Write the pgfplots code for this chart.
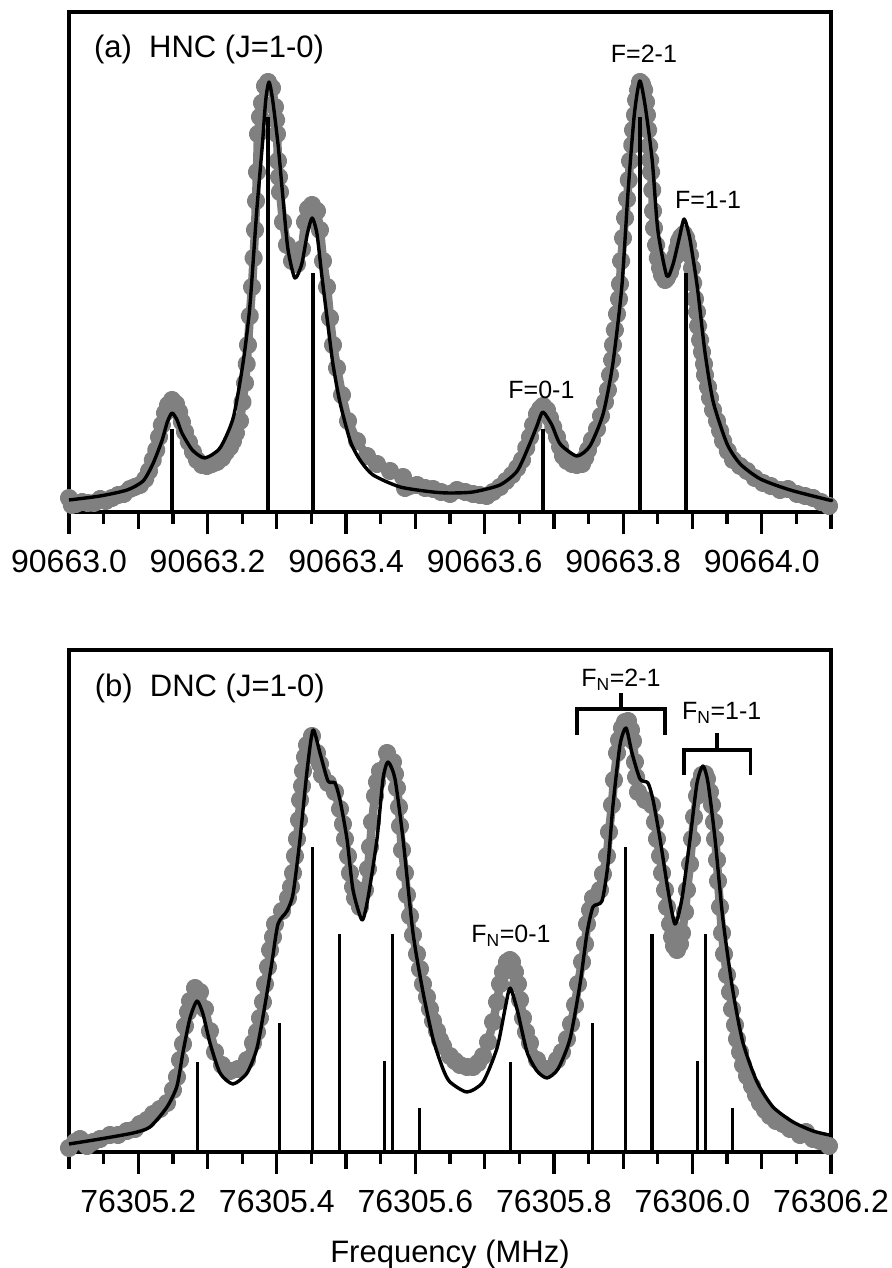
\documentclass[border=0pt]{standalone}
\usepackage{fontspec}
\setmainfont{Liberation Sans}
\usepackage{pgfplots}
\pgfplotsset{compat=1.18}
\definecolor{dotgray}{gray}{0.5}
\pgfplotsset{
  spec/.style={
    scale only axis, width=762pt, xmin=0, xmax=1.1, ymin=0,
    axis line style={line width=3.3pt},
    tick align=outside, xtick pos=left, ytick=\empty,
    major tick length=22pt, minor tick length=12pt,
    major tick style={line width=3.3pt, black},
    minor tick style={line width=3.3pt, black},
    minor xtick={0.05,0.15,0.25,0.35,0.45,0.55,0.65,0.75,0.85,0.95,1.05},
    extra tick style={major tick length=17pt},
    extra x tick labels={},
    xticklabel style={font=\fontsize{32}{32}\selectfont, inner sep=0pt, anchor=north},
    xticklabel shift=16pt,
    clip=false, clip marker paths=true,
  },
  dots/.style={dotgray, line width=8.5pt, line join=round, line cap=round, mark=*, mark size=5pt, mark options={draw=none, fill=dotgray}},
  fitline/.style={black, line width=3.4pt, smooth, tension=0.4, line join=round, no markers},
  sticks/.style={ycomb, black, line width=3.4pt, no markers},
}
\begin{document}
\begin{tikzpicture}
\path[use as bounding box] (0,0) rectangle (891pt,1268pt);
% ---------------- (a) HNC ----------------
\begin{axis}[spec, at={(69pt,756pt)}, anchor=south west, height=500pt, ymax=500,
  xtick={0,0.2,0.4,0.6,0.8,1.0},
  xticklabels={90663.0,90663.2,90663.4,90663.6,90663.8,90664.0},
  extra x ticks={0.1,0.3,0.5,0.7,0.9,1.1}]
\addplot[dots] table {
x y
0 14
0.004 7
0.010 8
0.019 10
0.027 9
0.036 9
0.045 13
0.053 11
0.062 14
0.071 17
0.079 18
0.088 23
0.095 25
0.1025 27
0.110 33
0.1155 41
0.121 52
0.126 62
0.130 75
0.134 87
0.1386 99
0.143 107
0.1487 112
0.1545 108
0.159 100
0.163 90
0.1675 80
0.173 70
0.179 60
0.1848 52
0.192 47
0.199 46
0.2064 48
0.2137 50
0.221 54
0.2266 60
0.2324 65
0.2368 71
0.241 79
0.2469 91
0.2505 110
0.2541 129
0.2565 148
0.2584 167
0.261 196
0.2642 225
0.2665 254
0.2685 282
0.270 311
0.2714 340
0.2728 378
0.2757 395
0.2786 409
0.2829 426
0.2873 430
0.2931 424
0.2974 405
0.299 392
0.3003 378
0.3017 351
0.3032 335
0.3046 320
0.3089 290
0.3147 267
0.3219 251
0.3291 248
0.3364 263
0.3407 290
0.3450 303
0.3508 307
0.3580 301
0.3623 282
0.3667 251
0.3725 225
0.3768 194
0.3811 167
0.3869 144
0.3941 117
0.4028 91
0.4158 71
0.4302 56
0.4446 48
0.4634 41
0.4822 35
0.4850 24
0.492 26
0.5024 27
0.514 24
0.5255 23
0.537 20
0.550 18
0.560 22
0.572 20
0.5832 18
0.593 17
0.603 16
0.612 20
0.6222 25
0.631 31
0.6395 37
0.647 44
0.654 52
0.660 64
0.6655 75
0.670 87
0.6756 98
0.680 103
0.6843 106
0.690 102
0.6944 94
0.699 85
0.7045 75
0.709 65
0.7132 56
0.719 51
0.7262 48
0.733 47
0.7406 48
0.745 54
0.7493 62
0.755 72
0.7622 83
0.768 96
0.7738 110
0.778 122
0.781 137
0.784 152
0.7853 167
0.788 182
0.7911 198
0.794 213
0.7954 228
0.797 251
0.7998 274
0.8027 294
0.8056 313
0.808 332
0.8099 351
0.813 367
0.8142 382
0.817 397
0.8186 412
0.8215 422
0.8244 430
0.827 428
0.8302 422
0.833 410
0.8344 397
0.836 382
0.8374 366
0.839 352
0.8403 340
0.842 322
0.8431 301
0.8445 284
0.8475 267
0.850 254
0.8532 244
0.856 237
0.8604 232
0.863 234
0.8676 240
0.8705 247
0.8748 255
0.878 263
0.8806 271
0.8835 275
0.8878 278
0.891 274
0.8936 267
0.8965 257
0.8994 244
0.901 229
0.9037 213
0.9066 200
0.9081 186
0.911 172
0.9138 160
0.9167 148
0.9181 137
0.9225 125
0.9254 114
0.9297 102
0.9355 91
0.940 81
0.9442 71
0.951 61
0.9586 52
0.9687 46
0.9788 41
0.990 34
1.0019 29
1.013 26
1.0264 22
1.038 23
1.051 18
1.0625 16
1.0741 14
1.0856 10
1.0972 6
};
\addplot[fitline] table {
x y
0 12
0.045 16
0.084 22
0.107 31
0.121 48
0.134 71
0.142 90
0.1487 99
0.156 92
0.163 79
0.178 62
0.196 54
0.218 64
0.237 94
0.251 148
0.261 205
0.271 301
0.279 366
0.284 412
0.2887 430
0.294 412
0.302 366
0.309 313
0.316 263
0.326 234
0.336 248
0.344 278
0.351 294
0.358 278
0.365 236
0.374 186
0.381 148
0.391 110
0.406 71
0.420 52
0.439 37
0.478 25
0.525 20
0.550 19
0.583 20
0.622 27
0.647 41
0.665 68
0.676 87
0.684 100
0.697 87
0.709 68
0.733 56
0.752 66
0.771 98
0.785 148
0.798 225
0.807 320
0.816 397
0.824 431
0.832 405
0.842 351
0.850 282
0.863 236
0.872 248
0.881 274
0.888 293
0.896 274
0.907 225
0.918 160
0.930 110
0.950 68
0.969 48
0.998 33
1.041 22
1.097 12
1.1 12
};
\addplot[sticks] coordinates {(0.1487,83) (0.2873,395) (0.3522,239) (0.6843,83) (0.8244,395) (0.8908,239)};
\node[anchor=base west, inner sep=0pt, font=\fontsize{31}{31}\selectfont] at (axis cs:0.036,454) {(a)~~HNC (J=1-0)};
\node[anchor=base, inner sep=0pt, font=\fontsize{25}{25}\selectfont] at (axis cs:0.830,449) {F=2-1};
\node[anchor=base, inner sep=0pt, font=\fontsize{25}{25}\selectfont] at (axis cs:0.9225,303) {F=1-1};
\node[anchor=base, inner sep=0pt, font=\fontsize{25}{25}\selectfont] at (axis cs:0.682,113) {F=0-1};
\end{axis}
% ---------------- (b) DNC ----------------
\begin{axis}[spec, at={(69pt,116pt)}, anchor=south west, height=502pt, ymax=502,
  xtick={0.1,0.3,0.5,0.7,0.9,1.1},
  xticklabels={76305.2,76305.4,76305.6,76305.8,76306.0,76306.2},
  extra x ticks={0,0.2,0.4,0.6,0.8,1.0},
  xlabel={Frequency (MHz)},
  xlabel style={font=\fontsize{31}{31}\selectfont, at={(axis description cs:0.5,0)}, anchor=base, yshift=-110pt, inner sep=0pt}]
\addplot[dots] table {
x y
0 4
0.0087 10
0.0159 13
0.026 6
0.0346 10
0.0448 13
0.0592 17
0.0707 17
0.0837 21
0.0953 23
0.1025 28
0.1126 32
0.1213 38
0.1314 43
0.1415 49
0.1501 62
0.1559 75
0.1602 92
0.1646 108
0.1675 126
0.1718 140
0.1747 151
0.1819 164
0.1891 160
0.1963 143
0.2035 121
0.2108 100
0.2209 87
0.2324 81
0.2440 83
0.2570 92
0.2656 109
0.2714 120
0.2757 134
0.28 150
0.2829 168
0.2873 185
0.2902 202
0.2945 215
0.2974 228
0.3075 241
0.3161 254
0.3205 265
0.3234 279
0.3262 296
0.3291 313
0.332 332
0.3335 352
0.3364 366
0.3378 381
0.3407 395
0.3436 407
0.3508 416
0.3580 399
0.3623 388
0.3652 377
0.3739 369
0.3840 360
0.3912 343
0.3955 328
0.3984 313
0.4028 296
0.4056 279
0.41 265
0.4129 254
0.4201 245
0.4273 262
0.4316 283
0.4345 305
0.4374 330
0.4417 356
0.4446 370
0.4489 381
0.4591 399
0.4677 390
0.4706 378
0.4735 364
0.4764 345
0.4778 326
0.4807 302
0.4850 279
0.4879 257
0.4923 236
0.4966 217
0.5024 198
0.5067 183
0.5110 168
0.5168 155
0.5211 143
0.5255 131
0.5312 121
0.5356 112
0.5399 106
0.5500 96
0.5572 91
0.5644 87
0.5745 85
0.5832 85
0.5904 89
0.5977 96
0.6049 110
0.6121 130
0.6179 150
0.6222 168
0.6265 180
0.6323 190
0.6366 192
0.6395 190
0.6438 180
0.6482 168
0.6511 152
0.6554 134
0.6597 120
0.6655 109
0.6756 92
0.6900 83
0.7045 92
0.7117 100
0.7189 113
0.7247 128
0.7305 147
0.7348 168
0.7406 190
0.7449 208
0.7478 228
0.7521 242
0.7564 254
0.7665 262
0.7708 278
0.7766 296
0.7795 320
0.7838 347
0.7867 372
0.7911 399
0.7940 412
0.7983 424
0.8026 430
0.8070 431
0.8113 422
0.8142 411
0.817 390
0.8186 375
0.8214 360
0.8315 352
0.8416 347
0.8459 330
0.8488 313
0.8532 296
0.8561 279
0.8604 262
0.8633 245
0.8676 228
0.8705 215
0.8734 206
0.8777 202
0.882 208
0.8850 219
0.8893 240
0.8921 262
0.8965 288
0.8994 313
0.9023 335
0.9066 356
0.9095 368
0.9138 377
0.9181 378
0.9210 373
0.9253 360
0.9282 347
0.9311 330
0.9326 313
0.9355 292
0.9369 271
0.9398 245
0.9427 219
0.9456 198
0.9499 177
0.9542 160
0.9571 143
0.9614 127
0.9643 113
0.9687 100
0.9730 87
0.9788 76
0.9860 66
0.9917 57
0.9975 49
1.0047 42
1.0119 36
1.0206 31
1.0307 28
1.0408 23
1.0553 17
1.0639 20
1.0740 13
1.0841 11
1.0971 6
};
\addplot[fitline] table {
x y
0 8
0.0448 13
0.0924 19
0.1169 25
0.1415 45
0.1559 66
0.1646 100
0.1747 134
0.1848 151
0.1934 138
0.2035 109
0.2180 79
0.2367 68
0.2570 79
0.2714 104
0.2829 147
0.2930 190
0.3017 228
0.3147 241
0.3234 258
0.3335 313
0.3436 381
0.3522 422
0.3623 399
0.3739 371
0.3840 369
0.3912 352
0.4013 313
0.4100 262
0.4230 232
0.4316 254
0.4446 313
0.4533 373
0.4605 390
0.4706 373
0.4822 313
0.4966 219
0.5110 160
0.5255 113
0.5399 83
0.5500 70
0.5745 60
0.5977 70
0.6179 104
0.6294 143
0.6366 164
0.6467 143
0.6612 100
0.6756 81
0.6900 74
0.7059 83
0.7232 113
0.7377 168
0.7478 219
0.7564 245
0.7694 251
0.7781 288
0.7853 347
0.7954 407
0.8041 424
0.8127 399
0.8243 373
0.8358 369
0.8431 352
0.8532 313
0.8647 262
0.8748 228
0.8850 254
0.8965 313
0.9066 369
0.9152 386
0.9225 369
0.9326 313
0.9441 232
0.9586 160
0.9730 109
0.9932 70
1.0163 45
1.0452 30
1.0740 21
1.0971 17
1.1 16
};
\addplot[sticks] coordinates {(0.1852,90) (0.3036,129) (0.3513,305) (0.3902,218) (0.4552,91) (0.4673,218) (0.5057,44) (0.6371,90) (0.7555,129) (0.8031,305) (0.8416,218) (0.907,91) (0.9191,218) (0.9576,44)};
\node[anchor=base west, inner sep=0pt, font=\fontsize{31}{31}\selectfont] at (axis cs:0.037,455) {(b)~~DNC (J=1-0)};
\node[anchor=base, inner sep=0pt, font=\fontsize{25}{25}\selectfont] at (axis cs:0.7969,465) {F\textsubscript{N}=2-1};
\node[anchor=base, inner sep=0pt, font=\fontsize{25}{25}\selectfont] at (axis cs:0.9422,432) {F\textsubscript{N}=1-1};
\node[anchor=base, inner sep=0pt, font=\fontsize{25}{25}\selectfont] at (axis cs:0.6381,209) {F\textsubscript{N}=0-1};
\draw[line width=3.3pt] (axis cs:0.7334,417) -- (axis cs:0.7334,443) -- (axis cs:0.8604,443) -- (axis cs:0.8604,417);
\draw[line width=3.3pt] (axis cs:0.7969,443) -- (axis cs:0.7969,459);
\draw[line width=3.3pt] (axis cs:0.8878,377) -- (axis cs:0.8878,402) -- (axis cs:0.9841,402) -- (axis cs:0.9841,377);
\draw[line width=3.3pt] (axis cs:0.9355,402) -- (axis cs:0.9355,419);
\end{axis}
\end{tikzpicture}
\end{document}
